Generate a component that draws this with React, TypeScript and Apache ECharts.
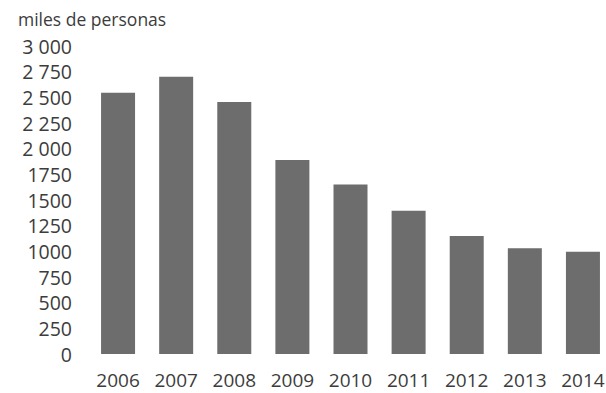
import React, { useEffect, useRef } from "react";
import * as echarts from "echarts";

const categories = ["2006", "2007", "2008", "2009", "2010", "2011", "2012", "2013", "2014"];
const values = [2545, 2700, 2455, 1890, 1650, 1395, 1150, 1030, 995];
const tickValues = [0, 250, 500, 750, 1000, 1250, 1500, 1750, 2000, 2250, 2500, 2750, 3000];
const tickLabels = ["0", "250", "500", "750", "1000", "1250", "1500", "1750", "2 000", "2 250", "2 500", "2 750", "3 000"];
const unitLabel = "miles de personas";

const FONT = "'Open Sans', 'Noto Sans', sans-serif";
const TEXT = "#3c3c3c";

export default function App() {
  const ref = useRef<HTMLDivElement>(null);
  useEffect(() => {
    if (!ref.current) return;
    const chart = echarts.init(ref.current, null, { renderer: "svg" });
    chart.setOption({
      animation: false,
      backgroundColor: "#ffffff",
      title: {
        text: unitLabel,
        left: 13,
        top: 5,
        textStyle: { fontFamily: FONT, fontSize: 17.5, fontWeight: "normal", color: TEXT },
      },
      grid: { left: 89, width: 523, top: 46, height: 308, outerBoundsMode: "none", containLabel: false },
      xAxis: {
        type: "category",
        data: categories,
        axisLine: { show: false },
        axisTick: { show: false },
        axisLabel: { fontFamily: FONT, fontSize: 19, color: TEXT, margin: 16, interval: 0 },
      },
      yAxis: {
        type: "value",
        min: 0,
        max: 3000,
        interval: 250,
        splitLine: { show: false },
        axisLine: { show: false },
        axisTick: { show: false },
        axisLabel: {
          fontFamily: FONT,
          fontSize: 19.5,
          color: TEXT,
          margin: 17,
          formatter: (v: number) => {
            const i = tickValues.indexOf(v);
            return i >= 0 ? tickLabels[i] : String(v);
          },
        },
      },
      series: [
        {
          type: "bar",
          data: values,
          barWidth: 34,
          itemStyle: { color: "#6d6d6d" },
        },
      ],
    });
    return () => chart.dispose();
  }, []);
  return (
    <div
      ref={ref}
      style={{ position: "fixed", left: 0, top: 0, width: 606, height: 393 }}
    />
  );
}
